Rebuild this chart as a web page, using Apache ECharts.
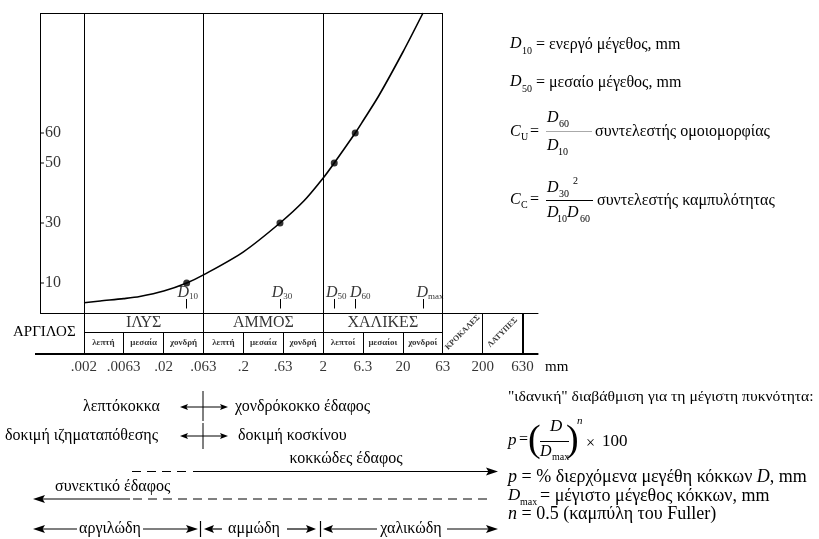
<!DOCTYPE html>
<html><head><meta charset="utf-8">
<script src="https://cdn.jsdelivr.net/npm/echarts@6.0.0/dist/echarts.min.js"></script>
<style>html,body{margin:0;padding:0;background:#fff}#c{width:819px;height:539px}</style>
</head><body><div id="c"></div>
<script>
// ---- data ----
const curveD = [0.002, 0.0032, 0.0063, 0.01, 0.02, 0.0388, 0.063, 0.2, 0.574, 1.15, 2, 2.75, 5.04, 6.3, 10, 20, 35.7];
const curveP = [3.4, 4.0, 4.8, 5.5, 7.3, 10, 12.7, 20.4, 30, 37.4, 45, 50, 60, 64, 72.5, 87, 100];
const dKeys = ['10', '30', '50', '60', 'max'];
const dSizes = [0.0388, 0.574, 2.75, 5.04, 35.7];
const dPass = [10, 30, 50, 60];
const xTickVals = [0.002, 0.0063, 0.02, 0.063, 0.2, 0.63, 2, 6.3, 20, 63, 200, 630];
const xTickLabels = ['.002', '.0063', '.02', '.063', '.2', '.63', '2', '6.3', '20', '63', '200', '630'];
const yTickVals = [10, 30, 50, 60];
const mainBounds = [0.002, 0.063, 2, 63];
const subBounds = [0.0063, 0.02, 0.2, 0.63, 6.3, 20];
const coarseBounds = [200, 630];
const fractionNames = ['ΙΛΥΣ', 'ΑΜΜΟΣ', 'ΧΑΛΙΚΕΣ'];
const fractionCenters = [0.0112, 0.355, 11.2];
const subNames = ['λεπτή', 'μεσαία', 'χονδρή', 'λεπτή', 'μεσαία', 'χονδρή', 'λεπτοί', 'μεσαίοι', 'χονδροί'];
const subCenters = [0.0035, 0.0112, 0.0355, 0.112, 0.355, 1.12, 3.55, 11.2, 35.5];
const coarseNames = ['ΚΡΟΚΑΛΕΣ', 'ΛΑΤΥΠΕΣ'];
const coarseCenters = [112, 355];

// ---- layout constants ----
const AX_MIN = 0.000486, AX_MAX = 1100, FRAME_MIN = 0.000562, TABLE_END = 1000;
const Y1 = -6.33, Y2 = -13.67, YT = -18;
const SERIF = '"Liberation Serif","DejaVu Serif",serif';
const INK = '#000';

const ml = [];
function seg(x1, y1, x2, y2, w) { ml.push([{ coord: [x1, y1], lineStyle: { width: w || 1 } }, { coord: [x2, y2] }]); }
seg(FRAME_MIN, 0, FRAME_MIN, 100);
seg(FRAME_MIN, 100, 63, 100);
seg(FRAME_MIN, 0, TABLE_END, 0);
mainBounds.forEach(b => seg(b, 100, b, Y2));
seg(0.002, Y1, 63, Y1);
subBounds.forEach(b => seg(b, Y1, b, Y2));
coarseBounds.forEach((b, i) => seg(b, 0, b, Y2, i === 1 ? 2 : 1));
seg(AX_MIN, Y2, TABLE_END, Y2, 2);

const dShift = [1, 2, 2, 5, 7];

function T(x, y, text, size, o) {
  o = o || {};
  const al = o.align || 'left';
  return { type: 'text', x: x, y: y, silent: true, style: {
    text: text, font: (o.italic ? 'italic ' : '') + (o.bold ? 'bold ' : '') + size + 'px ' + SERIF,
    fill: INK, align: al, verticalAlign: 'middle', textAlign: al, textVerticalAlign: 'middle', rich: o.rich } };
}
function L(x1, y1, x2, y2, w, dash, col) {
  return { type: 'line', silent: true, shape: { x1: x1, y1: y1, x2: x2, y2: y2 },
    style: { stroke: col || INK, lineWidth: w || 1, lineDash: dash || null } };
}
function H(x, y, dir, len, half) {
  const s = dir === 'r' ? -1 : 1; len = len || 10; half = half || 3.5;
  return { type: 'polygon', silent: true, shape: { points: [[x, y], [x + s * len, y - half], [x + s * len * 0.8, y], [x + s * len, y + half]] },
    style: { fill: INK } };
}
const it18 = { fontFamily: SERIF, fontStyle: 'italic', fontSize: 18, color: INK };

const g = [
  T(13, 332, 'ΑΡΓΙΛΟΣ', 15),
  T(545, 367, 'mm', 15),
  // right-hand definitions
  T(510, 44, 'D', 16, { italic: true }), T(522, 51, '10', 10), T(536, 45, '= ενεργό μέγεθος, mm', 16),
  T(510, 82, 'D', 16, { italic: true }), T(522, 89, '50', 10), T(536, 83, '= μεσαίο μέγεθος, mm', 16),
  T(510, 132, 'C', 16, { italic: true }), T(521, 137, 'U', 10), T(530, 132, '=', 16),
  T(547, 118, 'D', 16, { italic: true }), T(559, 124, '60', 10),
  L(546, 131.5, 592, 131.5, 1, null, '#aaa'),
  T(547, 146, 'D', 16, { italic: true }), T(558, 152, '10', 10),
  T(595, 132, 'συντελεστής ομοιομορφίας', 16),
  T(510, 200, 'C', 16, { italic: true }), T(521, 205, 'C', 10), T(530, 200, '=', 16),
  T(547, 188, 'D', 16, { italic: true }), T(559, 194, '30', 10), T(573, 181, '2', 10),
  L(546, 200.5, 593, 200.5, 1),
  T(547, 213, 'D', 16, { italic: true }), T(557, 219, '10', 10), T(567, 213, 'D', 16, { italic: true }), T(580, 219, '60', 10),
  T(597, 201, 'συντελεστής καμπυλότητας', 16),
  // ideal grading
  T(508, 397, '"ιδανική" διαβάθμιση για τη μέγιστη πυκνότητα:', 15.6),
  T(508, 441, 'p', 17, { italic: true }), T(519, 440, '=', 16),
  T(528, 441, '(', 38), T(566, 441, ')', 38),
  T(550, 427, 'D', 17, { italic: true }), L(540, 441.5, 569, 441.5, 1),
  T(540, 452, 'D', 16, { italic: true }), T(552, 457, 'max', 10),
  T(577, 421, 'n', 11, { italic: true }), T(586, 444, '×', 16), T(602, 442, '100', 17),
  T(508, 477, '{i|p} = % διερχόμενα μεγέθη κόκκων {i|D}, mm', 18, { rich: { i: it18 } }),
  T(508, 496, 'D', 17, { italic: true }), T(520, 502, 'max', 10), T(540, 496, '= μέγιστο μέγεθος κόκκων, mm', 18),
  T(508, 514, '{i|n} = 0.5 (καμπύλη του Fuller)', 18, { rich: { i: it18 } }),
  // fine / coarse
  T(160, 407, 'λεπτόκοκκα', 16, { align: 'right' }),
  L(186, 407, 222, 407), H(180, 407, 'l', 8, 3), H(228, 407, 'r', 8, 3), L(203, 391, 203, 421),
  T(235, 407, 'χονδρόκοκκο έδαφος', 16),
  T(158, 436, 'δοκιμή ιζηματαπόθεσης', 16, { align: 'right' }),
  L(186, 436, 222, 436), H(180, 436, 'l', 8, 3), H(228, 436, 'r', 8, 3), L(203, 423, 203, 449),
  T(238, 436, 'δοκιμή κοσκίνου', 16),
  // granular / cohesive
  T(346, 459, 'κοκκώδες έδαφος', 16, { align: 'center' }),
  L(132, 471.5, 190, 471.5, 1, [9, 6]), L(193, 471.5, 490, 471.5, 1.2), H(498, 471.5, 'r', 12, 4),
  T(55, 487, 'συνεκτικό έδαφος', 16),
  H(33, 499, 'l', 12, 4), L(42, 499, 130, 499, 1.2), L(133, 499, 493, 499, 1, [9, 6]),
  // clayey / sandy / gravelly
  H(33, 529, 'l', 12, 4), L(42, 529, 77, 529, 1.2), T(110, 529, 'αργιλώδη', 16, { align: 'center' }),
  L(143, 529, 190, 529, 1.2), H(198, 529, 'r', 12, 4), L(200.5, 521, 200.5, 537, 1.2),
  H(204, 529, 'l', 10, 4), L(212, 529, 222, 529, 1.2), T(254, 529, 'αμμώδη', 16, { align: 'center' }),
  L(287, 529, 308, 529, 1.2), H(316, 529, 'r', 10, 4), L(320.5, 521, 320.5, 537, 1.2),
  H(323, 529, 'l', 10, 4), L(331, 529, 377, 529, 1.2), T(411, 529, 'χαλικώδη', 16, { align: 'center' }),
  L(447, 529, 488, 529, 1.2), H(498, 529, 'r', 12, 4)
];

const chart = echarts.init(document.getElementById('c'), null, { renderer: 'canvas' });
chart.setOption({
  animation: false,
  backgroundColor: '#fff',
  grid: { left: 35, right: 277.3, top: 13, bottom: 166 },
  xAxis: { type: 'log', logBase: 10, min: AX_MIN, max: AX_MAX, show: false },
  yAxis: { type: 'value', min: -20, max: 100, show: false },
  graphic: { elements: g },
  series: [
    {
      type: 'line', clip: false, data: curveD.map((d, i) => [d, curveP[i]]),
      smooth: 0.3, showSymbol: false, symbol: 'none',
      lineStyle: { color: INK, width: 1.6 }, silent: true, z: 3,
      markLine: { silent: true, symbol: ['none', 'none'], label: { show: false },
        lineStyle: { type: 'solid', color: INK, width: 1 }, emphasis: { disabled: true }, data: ml }
    },
    {
      type: 'scatter', clip: false, silent: true, z: 4,
      data: dPass.map((p, i) => [dSizes[i], p]), symbolSize: 7, itemStyle: { color: '#000' }
    },
    {
      type: 'scatter', clip: false, silent: true, symbolSize: 0.1, itemStyle: { color: 'rgba(0,0,0,0)' },
      data: dSizes.map((d, i) => ({ value: [d, 6.8], label: { offset: [dShift[i], 0] } })),
      label: { show: true, position: 'inside', color: INK,
        formatter: p => '{d|D}{s|' + dKeys[p.dataIndex] + '}',
        rich: { d: { fontFamily: SERIF, fontStyle: 'italic', fontSize: 16, color: INK, lineHeight: 16 },
                s: { fontFamily: SERIF, fontSize: 9, color: INK, lineHeight: 9, padding: [8, 0, 0, 0] } } },
      markLine: { silent: true, symbol: ['none', 'arrow'], symbolSize: [0, 6], label: { show: false },
        lineStyle: { type: 'solid', color: INK, width: 1 }, emphasis: { disabled: true },
        data: dSizes.map(d => [{ coord: [d, 4.67] }, { coord: [d, 1.5] }]) }
    },
    {
      type: 'scatter', clip: false, silent: true, symbolSize: 0.1, itemStyle: { color: 'rgba(0,0,0,0)' },
      data: xTickVals.map(v => [v, YT]),
      label: { show: true, position: 'inside', color: INK, fontFamily: SERIF, fontSize: 15,
        formatter: p => xTickLabels[p.dataIndex] }
    },
    {
      type: 'scatter', clip: false, silent: true, symbol: 'rect', symbolSize: [4, 1.2], symbolOffset: [2, 0],
      itemStyle: { color: INK }, data: yTickVals.map(v => [FRAME_MIN, v]),
      label: { show: true, position: 'right', distance: 1, color: INK, fontFamily: SERIF, fontSize: 16,
        formatter: p => String(p.value[1]) }
    },
    {
      type: 'scatter', clip: false, silent: true, symbolSize: 0.1, itemStyle: { color: 'rgba(0,0,0,0)' },
      data: fractionCenters.map(v => [v, -3.17]),
      label: { show: true, position: 'inside', color: INK, fontFamily: SERIF, fontSize: 16,
        formatter: p => fractionNames[p.dataIndex] }
    },
    {
      type: 'scatter', clip: false, silent: true, symbolSize: 0.1, itemStyle: { color: 'rgba(0,0,0,0)' },
      data: subCenters.map(v => [v, -10]),
      label: { show: true, position: 'inside', color: INK, fontFamily: SERIF, fontSize: 9, fontWeight: 'bold',
        formatter: p => subNames[p.dataIndex] }
    },
    {
      type: 'scatter', clip: false, silent: true, symbolSize: 0.1, itemStyle: { color: 'rgba(0,0,0,0)' },
      data: coarseCenters.map(v => [v, -6.5]),
      label: { show: true, position: 'inside', rotate: 45, color: INK, fontFamily: SERIF, fontSize: 8, fontWeight: 'bold',
        formatter: p => coarseNames[p.dataIndex] }
    }
  ]
});
</script></body></html>
